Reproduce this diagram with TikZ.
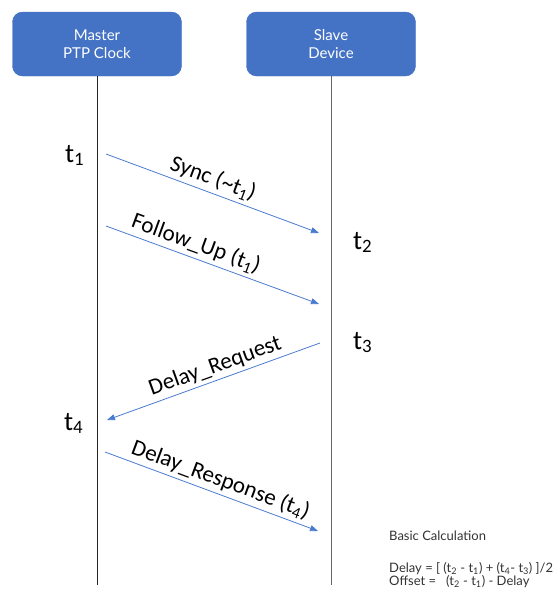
\documentclass[tikz,border=0pt]{standalone}
\usepackage{fontspec}
\setmainfont{Carlito}
\newfontfamily\boxfont{Lato}
\usepackage{xcolor}
\usetikzlibrary{arrows.meta, positioning}
\definecolor{officeblue}{HTML}{4472C4}
\definecolor{msgblue}{HTML}{4A7BD0}

\begin{document}
\begin{tikzpicture}[
    x=1pt, y=1pt,
    actor/.style={rectangle, fill=officeblue, draw=officeblue, rounded corners=10pt, minimum width=169pt, minimum height=64pt, text=white, font=\boxfont\fontsize{15}{18}\selectfont, align=center},
    lifeline/.style={black!85, line width=1pt},
    msg/.style={-{Triangle[length=8pt, width=6pt]}, msgblue, line width=0.8pt},
    msglabel/.style={above, sloped, text=black, font=\fontsize{23}{25}\selectfont, inner sep=3.5pt},
    tstamp/.style={anchor=base west, inner sep=0pt, font=\fontsize{27}{30}\selectfont},
    calc/.style={anchor=base west, inner sep=0pt, text=black!80, font=\boxfont\fontsize{13}{15}\selectfont}
]
    \useasboundingbox (0,0) rectangle (560,-598);

    % Actors
    \node[actor] (master) at (97,-44) {Master\\PTP Clock};
    \node[actor] (slave) at (331,-44) {Slave\\Device};

    % Lifelines
    \coordinate (masterend) at (97,-585);
    \coordinate (slaveend) at (331,-585);
    \draw[lifeline] (master.south) -- (masterend);
    \draw[lifeline, black!60] (slave.south) -- (slaveend);

    % Timestamps
    \node[tstamp] (t1) at (65,-162) {t\textsubscript{1}};
    \node[tstamp] (t2) at (353,-249) {t\textsubscript{2}};
    \node[tstamp] (t3) at (353,-349) {t\textsubscript{3}};
    \node[tstamp] (t4) at (64,-430) {t\textsubscript{4}};

    % Message ends
    \coordinate (syncA) at (106,-154);
    \coordinate (syncB) at (319,-233);
    \coordinate (fupA) at (106,-226);
    \coordinate (fupB) at (319,-304);
    \coordinate (reqA) at (320,-343);
    \coordinate (reqB) at (107,-420);
    \coordinate (respA) at (105,-452);
    \coordinate (respB) at (318,-531);

    % Messages
    \draw[msg] (syncA) -- node[msglabel, pos=0.48] {Sync (\textasciitilde t\textsubscript{1})} (syncB);
    \draw[msg] (fupA) -- node[msglabel, pos=0.40] {Follow\_Up (t\textsubscript{1})} (fupB);
    \draw[msg] (reqA) -- node[msglabel, pos=0.47] {Delay\_Request} (reqB);
    \draw[msg] (respA) -- node[msglabel, pos=0.52] {Delay\_Response (t\textsubscript{4})} (respB);

    % Calculation
    \node[calc] (calctitle) at (389,-540) {Basic Calculation};
    \node[calc] (calcdelay) at (389,-572) {Delay = [ (t\textsubscript{2} - t\textsubscript{1}) + (t\textsubscript{4}- t\textsubscript{3}) ]/2};
    \node[calc] (calcoffset) at (389,-585) {Offset = \ \ (t\textsubscript{2} - t\textsubscript{1}) - Delay};
\end{tikzpicture}
\end{document}
